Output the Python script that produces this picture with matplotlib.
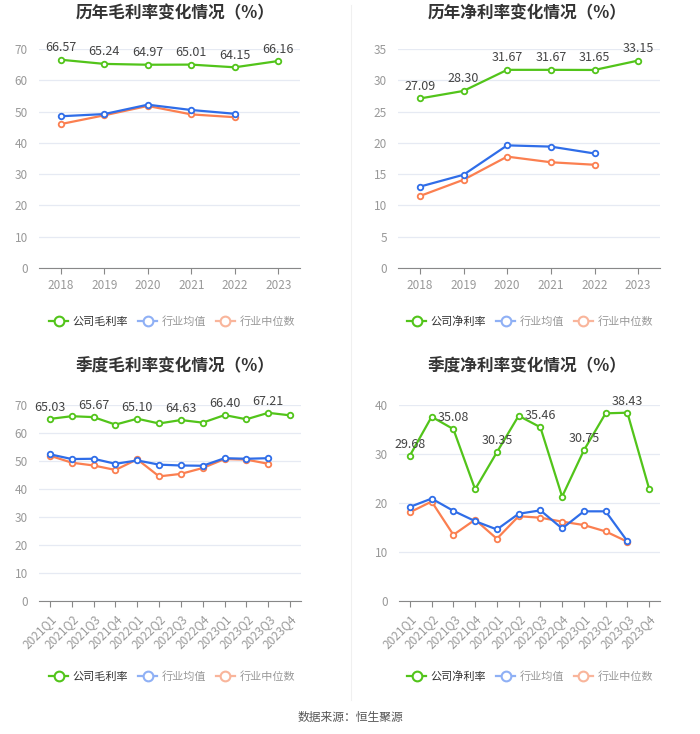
import matplotlib
matplotlib.use('Agg')
import matplotlib.pyplot as plt
from matplotlib.lines import Line2D

plt.rcParams['font.family'] = ['Noto Sans CJK SC', 'DejaVu Sans']

years = ['2018', '2019', '2020', '2021', '2022', '2023']
quarters = ['2021Q1', '2021Q2', '2021Q3', '2021Q4', '2022Q1', '2022Q2',
            '2022Q3', '2022Q4', '2023Q1', '2023Q2', '2023Q3', '2023Q4']

# 历年毛利率
gross_year = [66.57, 65.24, 64.97, 65.01, 64.15, 66.16]
gross_year_avg = [48.5, 49.2, 52.2, 50.5, 49.3]
gross_year_med = [46.0, 48.8, 51.8, 49.1, 48.2]

# 历年净利率
net_year = [27.09, 28.30, 31.67, 31.67, 31.65, 33.15]
net_year_avg = [13.0, 14.9, 19.6, 19.4, 18.3]
net_year_med = [11.5, 14.1, 17.8, 16.9, 16.5]

# 季度毛利率
gross_q = [65.03, 66.0, 65.67, 63.0, 65.10, 63.4, 64.63, 63.7, 66.40, 64.9, 67.21, 66.3]
gross_q_avg = [52.4, 50.7, 50.8, 49.0, 50.2, 48.7, 48.4, 48.3, 51.0, 50.8, 51.0]
gross_q_med = [51.9, 49.4, 48.4, 46.8, 50.6, 44.5, 45.4, 47.5, 50.7, 50.5, 49.0]

# 季度净利率
net_q = [29.68, 37.6, 35.08, 22.8, 30.35, 37.8, 35.46, 21.3, 30.75, 38.3, 38.43, 22.9]
net_q_avg = [19.2, 20.9, 18.4, 16.3, 14.6, 17.8, 18.5, 14.8, 18.3, 18.3, 12.2]
net_q_med = [18.1, 20.3, 13.5, 16.6, 12.7, 17.3, 17.0, 16.2, 15.5, 14.2, 12.1]

GREEN = '#52c41a'
BLUE = '#2f6de8'
ORANGE = '#fb7f50'

W, H = 700, 734
fig = plt.figure(figsize=(7, 7.34), dpi=100)


def px_axes(left, right, top, bottom):
    return fig.add_axes([left / W, 1 - bottom / H, (right - left) / W, (bottom - top) / H])


def draw(ax, cats, comp, avg, med, ymax, step, label_every, rotate):
    x = list(range(len(cats)))
    for vals, c, z in [(med, ORANGE, 2), (avg, BLUE, 3), (comp, GREEN, 4)]:
        ax.plot(x[:len(vals)], vals, color=c, lw=1.6, marker='o', ms=4,
                mfc='white', mec=c, mew=1.3, zorder=z, clip_on=False)
    for i, v in enumerate(comp):
        if i % label_every == 0:
            ax.text(i, v + ymax * 0.025, f'{v:.2f}', ha='center', va='bottom',
                    fontsize=9, color='#444444', zorder=6)
    ax.set_xlim(-0.5, len(cats) - 0.5)
    ax.set_ylim(0, ymax)
    ax.set_yticks(range(0, ymax + 1, step))
    ax.set_xticks(x)
    if rotate:
        ax.set_xticklabels(cats, rotation=45, ha='right', rotation_mode='anchor')
    else:
        ax.set_xticklabels(cats)
    ax.tick_params(axis='both', colors='#999999', labelsize=8.5, length=0)
    ax.tick_params(axis='x', length=4, color='#888888', pad=4)
    ax.tick_params(axis='y', pad=8)
    ax.grid(axis='y', color='#e6eaf3', lw=0.9)
    ax.set_axisbelow(True)
    for s in ['top', 'right', 'left']:
        ax.spines[s].set_visible(False)
    ax.spines['bottom'].set_color('#888888')


ax1 = px_axes(39, 300, 49, 268)
draw(ax1, years, gross_year, gross_year_avg, gross_year_med, 70, 10, 1, False)
ax2 = px_axes(398, 660, 49, 268)
draw(ax2, years, net_year, net_year_avg, net_year_med, 35, 5, 1, False)
ax3 = px_axes(39, 301, 405, 601)
draw(ax3, quarters, gross_q, gross_q_avg, gross_q_med, 70, 10, 2, True)
ax4 = px_axes(399, 660, 405, 601)
draw(ax4, quarters, net_q, net_q_avg, net_q_med, 40, 10, 2, True)

titles = [(175, 13, '历年毛利率变化情况（%）'), (527, 13, '历年净利率变化情况（%）'),
          (175, 366, '季度毛利率变化情况（%）'), (527, 366, '季度净利率变化情况（%）')]
for tx, ty, t in titles:
    fig.text(tx / W, 1 - ty / H, t, ha='center', va='center', fontsize=12,
             fontweight='bold', color='#333333')

# legends
for cx, cy, name in [(172, 322, '公司毛利率'), (530, 322, '公司净利率'),
                     (172, 677, '公司毛利率'), (530, 677, '公司净利率')]:
    handles = [
        Line2D([], [], color=GREEN, lw=1.6, marker='o', ms=7, mfc='white', mec=GREEN, mew=1.5),
        Line2D([], [], color='#8fb0f5', lw=1.6, marker='o', ms=7, mfc='white', mec='#8fb0f5', mew=1.5),
        Line2D([], [], color='#f9b59b', lw=1.6, marker='o', ms=7, mfc='white', mec='#f9b59b', mew=1.5),
    ]
    leg = fig.legend(handles, [name, '行业均值', '行业中位数'], loc='center',
                     bbox_to_anchor=(cx / W, 1 - cy / H), ncol=3, frameon=False,
                     fontsize=8, handlelength=1.7, handletextpad=0.4, columnspacing=0.9)
    for t, c in zip(leg.get_texts(), ['#333333', '#999999', '#999999']):
        t.set_color(c)

fig.add_artist(Line2D([351 / W, 351 / W], [1 - 5 / H, 1 - 700 / H], color='#f0f0f0', lw=0.8))

fig.text(0.5, 1 - 717 / H, '数据来源：恒生聚源', ha='center', va='center',
         fontsize=8.5, color='#555555')

fig.savefig('out.png', dpi=100, facecolor='white')
